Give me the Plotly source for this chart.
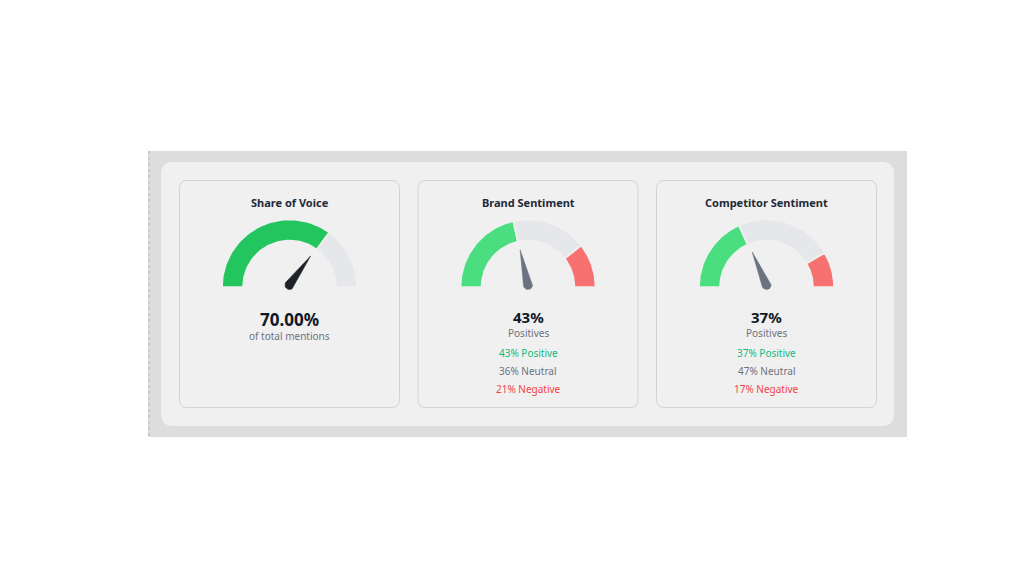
import numpy as np
import plotly.graph_objects as go

# data
card_titles = ["Share of Voice", "Brand Sentiment", "Competitor Sentiment"]
share_of_voice = 70.0
sentiment_positive = [43, 37]
sentiment_neutral = [36, 47]
sentiment_negative = [21, 17]

BG = "#f0f0f0"
GREEN_SOV = "#22c55e"
GREEN = "#4ade80"
GREY_ARC = "#e5e7eb"
RED = "#f87171"
FONT = "Noto Sans"

card_left = [179.5, 418, 656.5]
card_w, card_top, card_bot = 220, 180.5, 407.5
gauge_y = 287
r_out, r_in = 67.5, 46.5
needle_len, needle_w = 36, 4.6


def rounded_rect(x0, y0, x1, y1, r):
    return (f"M {x0+r},{y0} L {x1-r},{y0} Q {x1},{y0} {x1},{y0+r} "
            f"L {x1},{y1-r} Q {x1},{y1} {x1-r},{y1} L {x0+r},{y1} "
            f"Q {x0},{y1} {x0},{y1-r} L {x0},{y0+r} Q {x0},{y0} {x0+r},{y0} Z")


def arc_segment(cx, cy, f0, f1):
    # fractions of the half circle, 0 = left end, 1 = right end
    a = np.pi * (1 - np.linspace(f0, f1, 60))
    xs = np.concatenate([cx + r_out * np.cos(a), cx + r_in * np.cos(a[::-1])])
    ys = np.concatenate([cy - r_out * np.sin(a), cy - r_in * np.sin(a[::-1])])
    return list(xs) + [xs[0]], list(ys) + [ys[0]]


def needle(cx, cy, frac):
    ang = np.pi * (1 - frac)
    d = np.array([np.cos(ang), -np.sin(ang)])
    p = np.array([-d[1], d[0]])
    tip = np.array([cx, cy]) + d * needle_len
    back = np.linspace(0, np.pi, 20)
    pts = [tip]
    for t in back:
        v = p * np.cos(t) - d * np.sin(t)
        pts.append(np.array([cx, cy]) + v * needle_w)
    pts.append(tip)
    pts = np.array(pts)
    return pts[:, 0], pts[:, 1]


fig = go.Figure()


def add_poly(xs, ys, color, line_color=BG, lw=1.6):
    fig.add_trace(go.Scatter(x=xs, y=ys, fill="toself", fillcolor=color,
                             mode="lines", line=dict(color=line_color, width=lw),
                             hoverinfo="skip", showlegend=False))


shapes = [
    dict(type="rect", x0=148, y0=151, x1=907, y1=437, fillcolor="#dddddd",
         line=dict(width=0), layer="below"),
    dict(type="line", x0=149, y0=151, x1=149, y1=437,
         line=dict(color="#b5b5b5", width=1, dash="dot"), layer="below"),
    dict(type="path", path=rounded_rect(161, 162, 894, 426, 12), fillcolor=BG,
         line=dict(width=0), layer="below"),
]
for x0 in card_left:
    shapes.append(dict(type="path", path=rounded_rect(x0, card_top, x0 + card_w, card_bot, 8),
                       fillcolor=BG, line=dict(color="#d2d2d2", width=1), layer="below"))

annotations = []


def text(x, y, s, size, color, bold=False):
    annotations.append(dict(x=x, y=y, xref="x", yref="y", text=f"<b>{s}</b>" if bold else s,
                            showarrow=False, xanchor="center", yanchor="middle",
                            font=dict(family=FONT, size=size, color=color)))


# card 1 - share of voice
cx = card_left[0] + card_w / 2
f = share_of_voice / 100
add_poly(*arc_segment(cx, gauge_y, 0, f), GREEN_SOV)
add_poly(*arc_segment(cx, gauge_y, f, 1), GREY_ARC)
add_poly(*needle(cx, gauge_y - 2, f), "#1f2328", line_color="#1f2328", lw=0.5)
text(cx, 202, card_titles[0], 11, "#1f2937", bold=True)
text(cx, 319, f"{share_of_voice:.2f}%", 17, "#111827", bold=True)
text(cx, 335.5, "of total mentions", 10, "#6b7280")

# cards 2, 3 - sentiment
for i in range(2):
    cx = card_left[i + 1] + card_w / 2
    pos, neu, neg = sentiment_positive[i], sentiment_neutral[i], sentiment_negative[i]
    total = pos + neu + neg
    b1 = pos / total
    b2 = (pos + neu) / total
    add_poly(*arc_segment(cx, gauge_y, 0, b1), GREEN)
    add_poly(*arc_segment(cx, gauge_y, b1, b2), GREY_ARC)
    add_poly(*arc_segment(cx, gauge_y, b2, 1), RED)
    add_poly(*needle(cx, gauge_y - 2, pos / 100), "#6b7280", line_color="#6b7280", lw=0.5)
    text(cx, 202, card_titles[i + 1], 11, "#1f2937", bold=True)
    text(cx, 316.5, f"{pos}%", 15, "#111827", bold=True)
    text(cx, 332.5, "Positives", 10, "#6b7280")
    text(cx, 353, f"{pos}% Positive", 10, "#10b981")
    text(cx, 371, f"{neu}% Neutral", 10, "#6b7280")
    text(cx, 389, f"{neg}% Negative", 10, "#ef4444")

# the page puts the plot 8px in from its corner, so offset the ranges by the same
fig.update_layout(
    width=1024, height=576,
    margin=dict(l=0, r=0, t=0, b=0),
    paper_bgcolor="white", plot_bgcolor="white",
    xaxis=dict(range=[8, 1032], visible=False, fixedrange=True),
    yaxis=dict(range=[584, 8], visible=False, fixedrange=True),
    shapes=shapes, annotations=annotations,
    showlegend=False,
)

fig.write_html("out.html", config={"displayModeBar": False})
